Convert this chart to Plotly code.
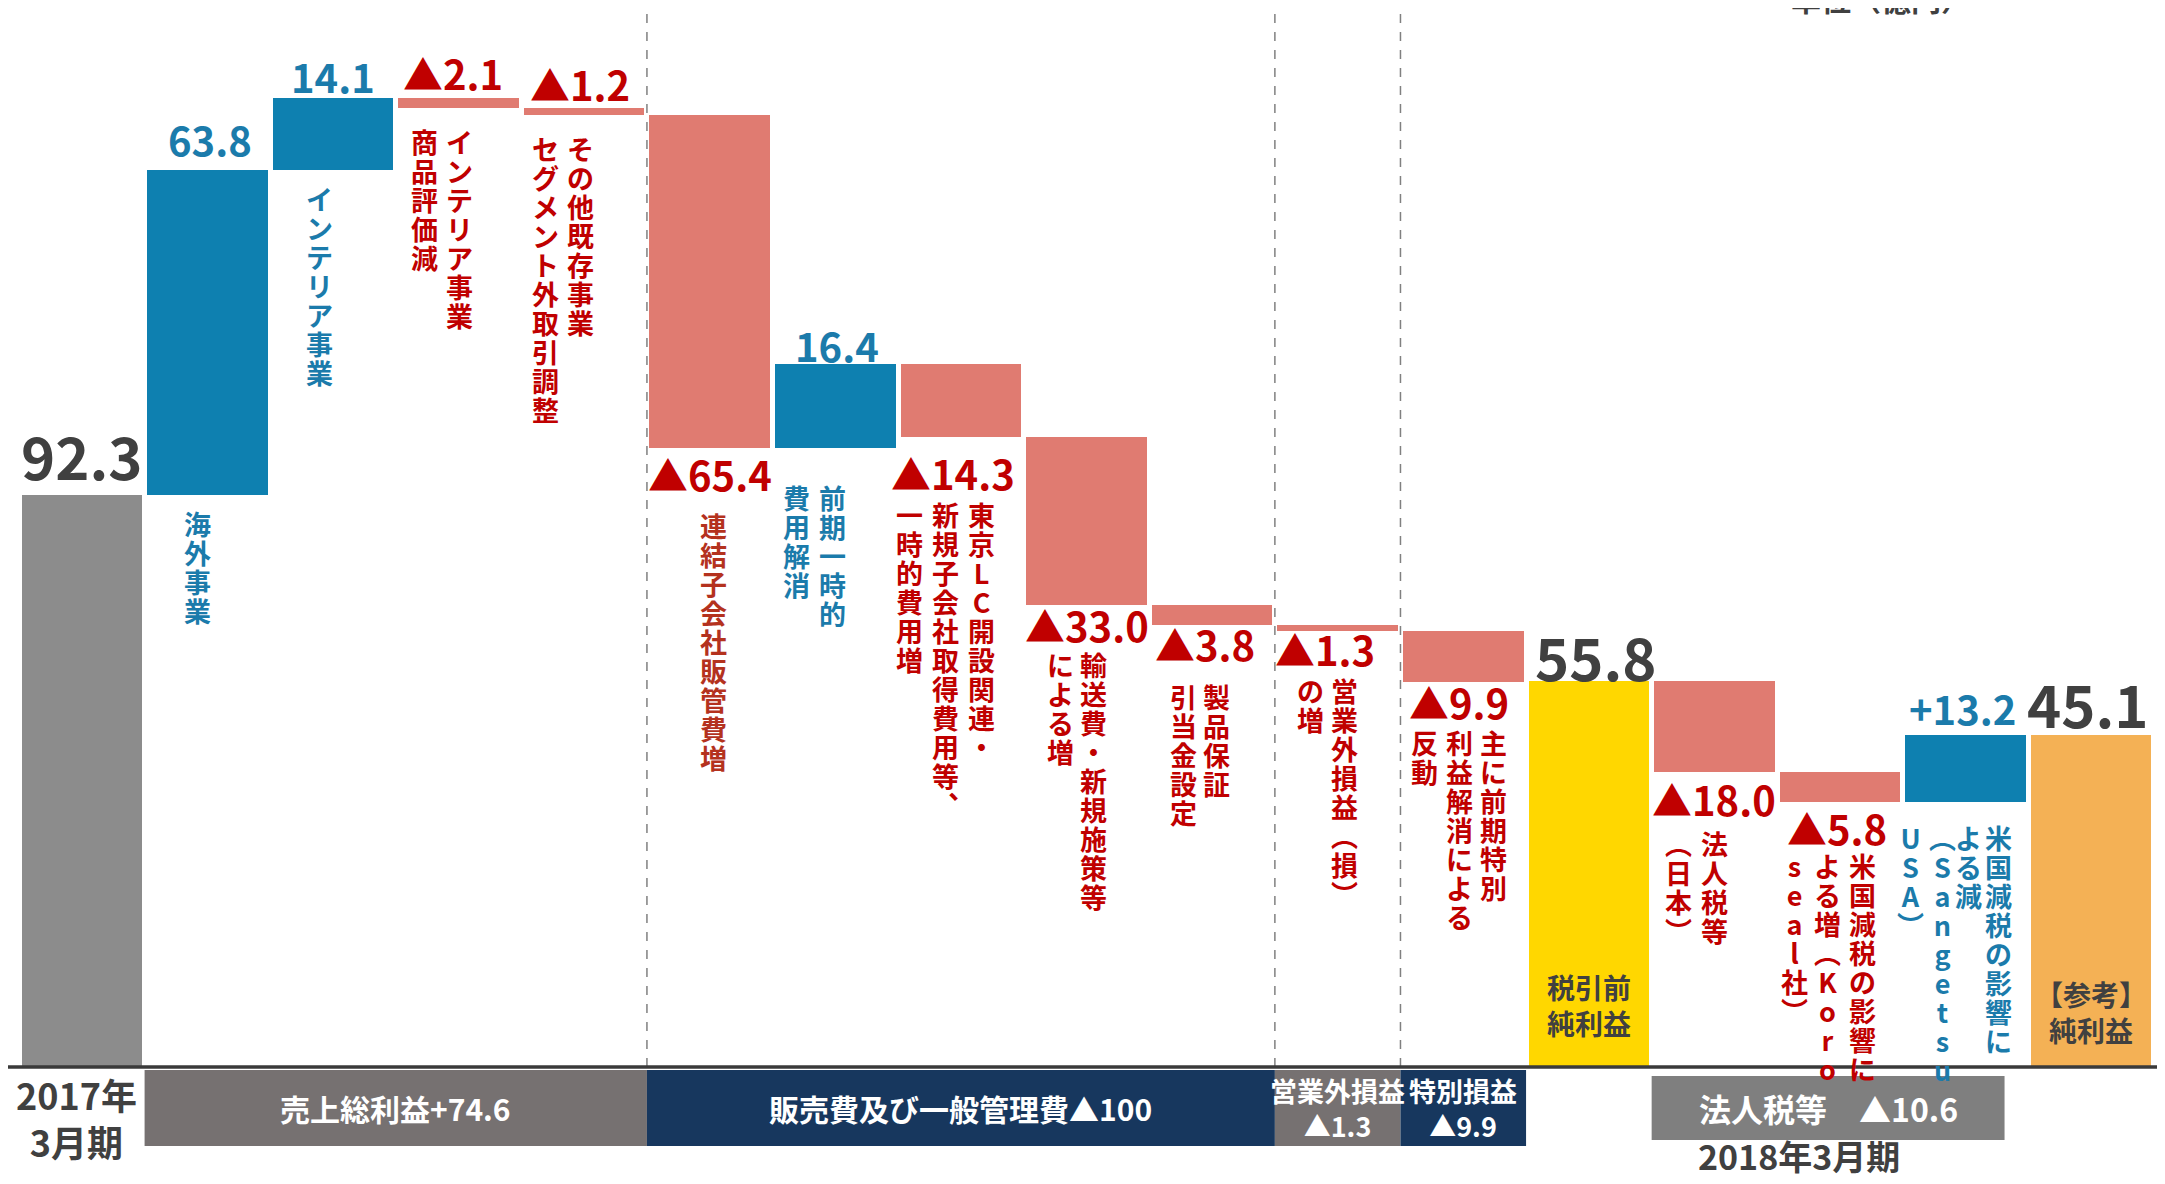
import plotly.graph_objects as go

# ---------------- data ----------------
steps = ["2017年3月期", "海外事業", "インテリア事業", "インテリア事業 商品評価減",
         "その他既存事業", "連結子会社販管費増", "前期一時的費用解消", "一時的費用増",
         "輸送費・新規施策等", "製品保証引当金設定", "営業外損益", "特別損益",
         "税引前純利益", "法人税等（日本）", "米国減税（Koroseal社）",
         "米国減税（Sangetsu USA）", "純利益"]
values = [92.3, 63.8, 14.1, -2.1, -1.2, -65.4, 16.4, -14.3, -33.0, -3.8,
          -1.3, -9.9, 55.8, -18.0, -5.8, 13.2, 45.1]
measures = ["absolute"] + ["relative"] * 11 + ["total"] + ["relative"] * 3 + ["total"]
value_labels = ["92.3", "63.8", "14.1", "▲2.1", "▲1.2", "▲65.4", "16.4", "▲14.3",
                "▲33.0", "▲3.8", "▲1.3", "▲9.9", "55.8", "▲18.0", "▲5.8",
                "+13.2", "45.1"]
# vertical notes: columns listed right -> left
notes = [
    [],
    ["海外事業"],
    ["インテリア事業"],
    ["インテリア事業", "商品評価減"],
    ["その他既存事業", "セグメント外取引調整"],
    ["連結子会社販管費増"],
    ["前期一時的", "費用解消"],
    ["東京LC開設関連・", "新規子会社取得費用等、", "一時的費用増"],
    ["輸送費・新規施策等", "による増"],
    ["製品保証", "引当金設定"],
    ["営業外損益（損）", "の増"],
    ["主に前期特別", "利益解消による", "反動"],
    [],
    ["法人税等", "（日本）"],
    ["米国減税の影響に", "よる増（Koro", "seal社）"],
    ["米国減税の影響に", "よる減", "（Sangetsu", "USA）"],
    [],
]
inbar_labels = {12: "税引前<br>純利益", 16: "【参考】<br>純利益"}
group_labels = ["売上総利益+74.6", "販売費及び一般管理費▲100", "営業外損益<br>▲1.3",
                "特別損益<br>▲9.9", "法人税等　▲10.6"]
group_members = [(1, 4), (5, 9), (10, 10), (11, 11), (13, 15)]
period_labels = ["2017年<br>3月期", "2018年3月期"]
unit_label = "単位（億円）"

# ---------------- style / layout ----------------
FONT = "Noto Sans CJK JP"
S = 2165 / 1568          # reference measurement scale
SLOT = 91.0              # slot width in reference units
PAGE_PAD = 8             # default page margin around the figure
W, H = 2165 - PAGE_PAD, 1184 - PAGE_PAD
M = dict(l=19 - PAGE_PAD, r=11, t=60 - PAGE_PAD, b=117)
PLOT_H = H - M["t"] - M["b"]
PLOT_W = W - M["l"] - M["r"]
BASE_SCREEN = 1067       # screen y of the baseline
FLOOR = -20
YMAX = 177.6

BLUE = "#0e80b0"
SALMON = "#e07b71"
BLUE_T = "#1b7bab"
RED_T = "#c00000"
DARK = "#404040"
total_colors = ["#8c8c8c", "#ffd700", "#f4b155"]

# value label placement: (side, dx, offset) in reference units
label_pos = [("above", 0, 29), ("above", 2, 22), ("above", 0, 16), ("above", -4, 18),
             ("above", -3, 18), ("below", 0, 19), ("above", 1, 14), ("below", -6, 26),
             ("below", 0, 14), ("below", -5, 14), ("below", -9, 13), ("below", -3, 15),
             ("above", 5, 18), ("below", 0, 19), ("below", -2, 19), ("above", -2, 19),
             ("above", -2, 23)]
# note columns: (column dx list, first char centre offset) in reference units
note_layout = {
    1: ([-7], 21), 2: ([-10], 21), 3: ([1, -25], 24), 4: ([-3, -28], 25),
    5: ([3], 56.5), 6: ([-2, -28], 36.5), 7: ([15, -11, -37], 56.5),
    8: ([5, -19], 43.5), 9: ([3, -21], 52.5), 10: ([5, -20], 43.5),
    11: ([22, -3, -28], 44.5), 13: ([0, -26], 51.5), 14: ([16, -9, -33], 46),
    15: ([24, 2, -17, -40], 26),
}
PITCH = 21 * S                 # vertical character pitch (px)
NOTE_SIZE = 27                 # glyph size of vertical notes
LINE_BASE = PITCH / 1.3        # base font so that plotly's line spacing equals PITCH
GLYPH_TOP = 21                 # first glyph centre below text top (px)
VFORM = {"（": "︵", "）": "︶", "、": "︑"}

# ---------------- waterfall geometry ----------------
bases, heights, tops, bottoms, colors = [], [], [], [], []
running = 0.0
ti = 0
for v, m in zip(values, measures):
    if m in ("absolute", "total"):
        b, t = FLOOR, v
        running = v
        colors.append(total_colors[ti]); ti += 1
    else:
        b, t = running, running + v
        running += v
        colors.append(BLUE if v > 0 else SALMON)
    bases.append(b)
    heights.append(t - b)
    tops.append(max(b, t))
    bottoms.append(min(b, t))

n = len(values)
xs = list(range(n))

fig = go.Figure(go.Bar(x=xs, y=heights, base=bases, marker=dict(color=colors, line=dict(width=0)),
                       width=0.96, hoverinfo="skip", showlegend=False))

ann = []


def tcolor(i):
    if measures[i] != "relative":
        return DARK
    return BLUE_T if values[i] > 0 else RED_T


# value labels
for i, lab in enumerate(value_labels):
    side, dx, off = label_pos[i]
    big = measures[i] != "relative"
    size = 58 if big else 40
    ann.append(dict(x=i + dx / SLOT, y=tops[i] if side == "above" else bottoms[i],
                    xref="x", yref="y", text=lab, showarrow=False,
                    xanchor="center", yanchor="middle", borderpad=0,
                    yshift=(off * S) if side == "above" else -(off * S),
                    font=dict(family=FONT, size=size, color=tcolor(i), weight="bold")))


# vertical notes: one column per annotation, one character per line
def vertical(col):
    return "<br>".join('<span style="font-size:%dpx">%s</span>' % (NOTE_SIZE, VFORM.get(ch, ch))
                       for ch in col)


for i, cols in enumerate(notes):
    if not cols:
        continue
    dxs, off0 = note_layout[i]
    col_color = BLUE_T if values[i] > 0 else ("#b4321e" if i == 5 else RED_T)
    for col, dx in zip(cols, dxs):
        ann.append(dict(x=i + dx / SLOT, y=bottoms[i], xref="x", yref="y",
                        text=vertical(col), showarrow=False, align="center",
                        xanchor="center", yanchor="top", borderpad=0,
                        yshift=-(off0 * S - GLYPH_TOP),
                        font=dict(family=FONT, size=LINE_BASE, color=col_color, weight="bold")))

# labels inside total bars
inbar_shift = {12: 38 * S + 10, 16: 33 * S + 9}
for i, lab in inbar_labels.items():
    ann.append(dict(x=i, y=FLOOR, xref="x", yref="y", text=lab, showarrow=False,
                    xanchor="center", yanchor="middle", yshift=inbar_shift[i],
                    font=dict(family=FONT, size=28, color=DARK, weight="bold")))


# bottom category band (positions given in screen px)
def py(px):
    return (BASE_SCREEN - px) / PLOT_H


def pxp(px):
    return (px - PAGE_PAD - M["l"]) / PLOT_W


shapes = []
group_colors = ["#767171", "#17375e", "#767171", "#17375e", "#7f7f7f"]
group_trim = [0, 0, 0, 0, 0.19]
group_font = [30, 30, 27, 27, 32]
for k, (lab, (a, b)) in enumerate(zip(group_labels, group_members)):
    if k == 4:
        y0, y1 = py(1140), py(1076)
    else:
        y0, y1 = py(1146), py(1070)
    x0, x1 = a - 0.5, b + 0.5 - group_trim[k]
    shapes.append(dict(type="rect", xref="x", yref="paper", x0=x0, x1=x1, y0=y0, y1=y1,
                       fillcolor=group_colors[k], line=dict(width=0), layer="above"))
    ann.append(dict(x=(x0 + x1) / 2, y=(y0 + y1) / 2, xref="x", yref="paper", text=lab,
                    showarrow=False, xanchor="center", yanchor="middle", borderpad=0,
                    font=dict(family=FONT, size=group_font[k], color="white", weight="bold")))

# baseline
shapes.append(dict(type="line", xref="paper", yref="paper", x0=pxp(5), x1=pxp(2165), y0=0, y1=0,
                   line=dict(color="#3a3a3a", width=3.5), layer="above"))
# dashed separators
for xv in (4.5, 9.5, 10.5):
    shapes.append(dict(type="line", xref="x", yref="paper", x0=xv, x1=xv, y0=0, y1=py(11),
                       line=dict(color="#808080", width=1.5, dash="dash"), layer="below"))

# period labels
ann.append(dict(x=-0.04, y=py(1117), xref="x", yref="paper", text=period_labels[0],
                showarrow=False, xanchor="center", yanchor="middle",
                font=dict(family=FONT, size=36, color=DARK, weight="bold")))
ann.append(dict(x=13.67, y=py(1155), xref="x", yref="paper", text=period_labels[1],
                showarrow=False, xanchor="center", yanchor="middle", borderpad=0,
                font=dict(family=FONT, size=34, color=DARK, weight="bold")))
# unit label (partly cut at the top edge, as in the reference)
ann.append(dict(x=pxp(1881), y=py(21), xref="paper", yref="paper",
                text=unit_label, showarrow=False, xanchor="center", yanchor="bottom",
                borderpad=0,
                font=dict(family=FONT, size=30, color=DARK, weight="bold")))

fig.update_layout(
    width=W, height=H, margin=M,
    paper_bgcolor="white", plot_bgcolor="white",
    xaxis=dict(range=[-0.5, n - 0.5], visible=False, fixedrange=True),
    yaxis=dict(range=[FLOOR, YMAX], visible=False, fixedrange=True),
    annotations=ann, shapes=shapes, bargap=0,
    font=dict(family=FONT),
)

fig.write_html("out.html")
